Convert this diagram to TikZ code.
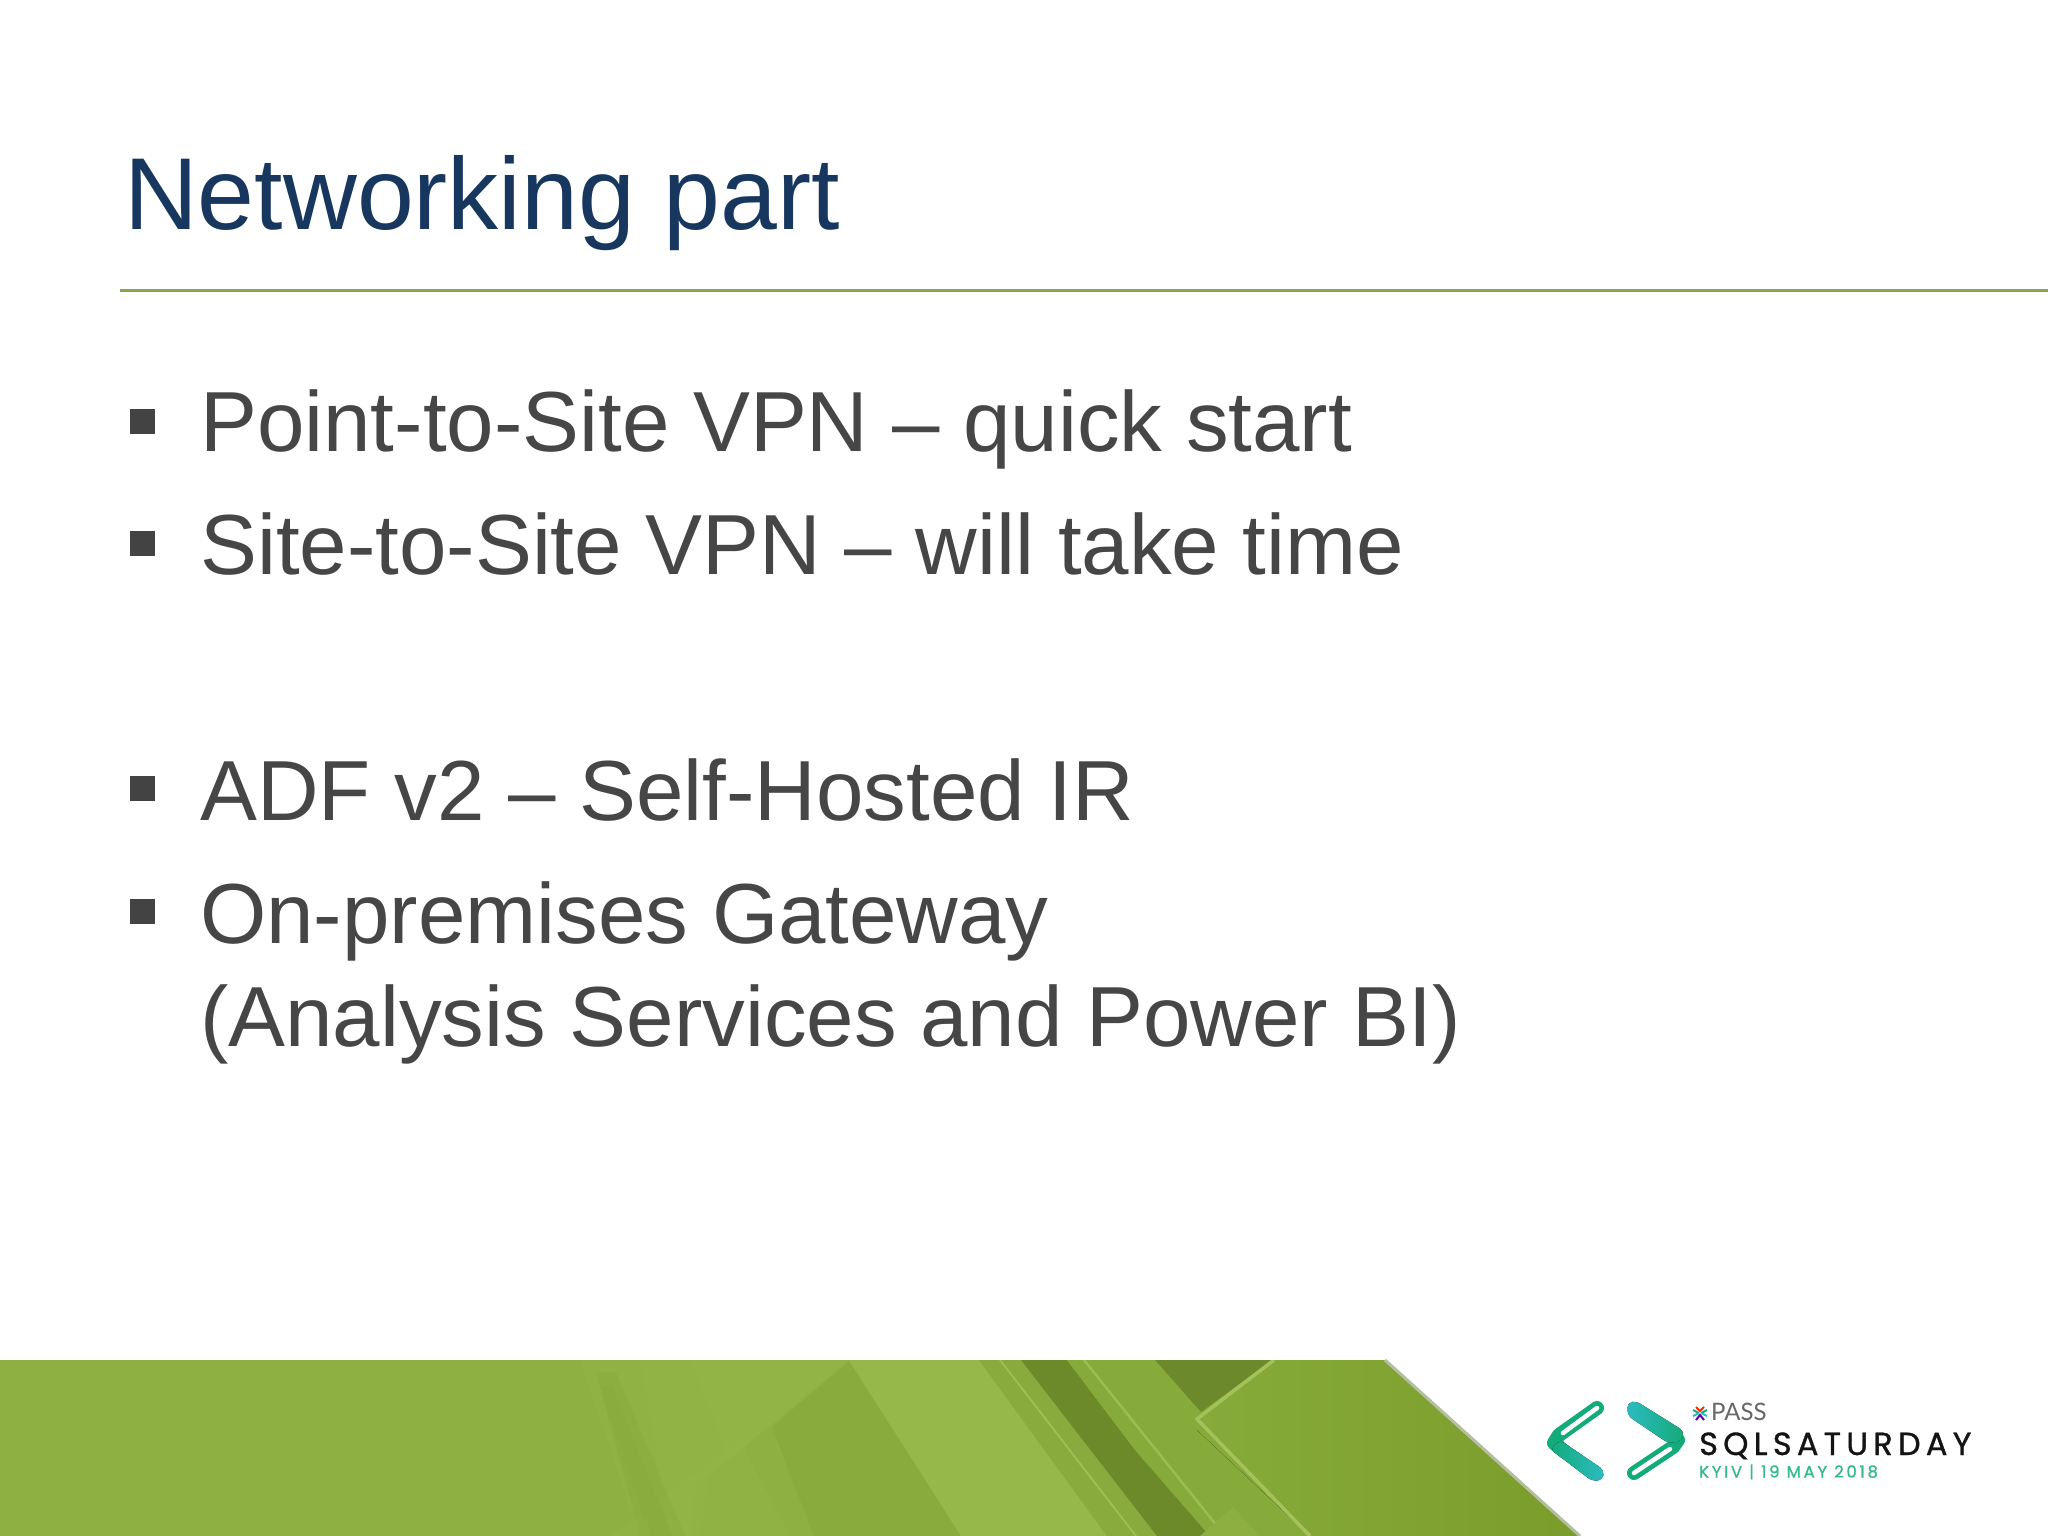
\documentclass[tikz,border=0pt]{standalone}
\usepackage{fontspec}
\setmainfont{Liberation Sans}
\newfontfamily\logospaced[LetterSpace=16.5,FakeBold=1]{Poppins}
\newfontfamily\kyivfont[LetterSpace=16.5,FakeBold=1]{Poppins}
\newfontfamily\passfont{Lato}
\definecolor{titleblue}{HTML}{17375E}
\definecolor{bodygray}{HTML}{464646}
\definecolor{rulegreen}{HTML}{8AA64A}
\definecolor{basegreen}{HTML}{8EAF42}
\definecolor{lightgreen}{HTML}{96B84B}
\definecolor{midgreen}{HTML}{89AB3E}
\definecolor{stripegreen}{HTML}{86A83A}
\definecolor{darkgreen}{HTML}{6C8A2C}
\definecolor{darkband}{HTML}{6D8A2B}
\definecolor{panelA}{HTML}{87AB3A}
\definecolor{panelB}{HTML}{7A9C2A}
\definecolor{edgegreen}{HTML}{A3C25A}
\definecolor{logoA}{HTML}{14AB7A}
\definecolor{logoB}{HTML}{2DBBC0}
\tikzset{
  titletext/.style={anchor=base west,inner sep=0pt,text=titleblue,font=\fontsize{102.2}{104}\selectfont},
  bodytext/.style={anchor=base west,inner sep=0pt,text=bodygray,font=\fontsize{85.3}{85}\selectfont},
  bulletbox/.style={fill=bodygray!95!black},
  logoarm/.style={draw=logoA,line width=14pt,line cap=round,line join=round},
  logoslit/.style={draw=white,line width=4.5pt,line cap=round},
  softstep/.style={fill=lightgreen,fill opacity=0.28},
  softdark/.style={fill=stripegreen,fill opacity=0.3},
}
\begin{document}
\begin{tikzpicture}[x=1pt,y=-1pt]
\useasboundingbox (0,0) rectangle (2048,1536);
\fill[white] (0,0) rectangle (2048,1536);
% title
\node[titletext] (title) at (124,229) {Networking part};
\draw[rulegreen,line width=2.5pt] (120,290.5) -- (2048,290.5);
% bullets and text
\fill[bulletbox] (130,409) rectangle (155,434);
\fill[bulletbox] (130,531) rectangle (155,556);
\fill[bulletbox] (130,776) rectangle (155,801);
\fill[bulletbox] (130,899) rectangle (155,924);
\node[bodytext] (b1) at (200,451.5) {Point-to-Site VPN – quick start};
\node[bodytext] (b2) at (200,574.5) {Site-to-Site VPN – will take time};
\node[bodytext] (b3) at (200,820.5) {ADF v2 – Self-Hosted IR};
\node[bodytext] (b4) at (200,943.5) {On-premises Gateway};
\node[bodytext] (b5) at (200,1046) {(Analysis Services and Power BI)};
% footer
\begin{scope}
\clip (0,1360) -- (1385,1360) -- (1580,1536) -- (0,1536) -- cycle;
\fill[basegreen] (0,1360) rectangle (1600,1536);
% faint panels, built of soft overlapping steps
\fill[softstep] (580,1360) -- (849,1360) -- (695,1487) -- (690,1536) -- (640,1536) -- cycle;
\fill[softstep] (640,1360) -- (849,1360) -- (710,1475) -- (700,1536) -- (670,1536) -- cycle;
\fill[softstep] (690,1360) -- (849,1360) -- (730,1460) -- cycle;
\fill[softstep] (610,1536) -- (740,1440) -- (790,1536) -- cycle;
\fill[softdark] (596,1372) -- (616,1372) -- (685,1536) -- (640,1536) -- cycle;
\fill[softdark] (600,1385) -- (612,1385) -- (672,1536) -- (650,1536) -- cycle;
\fill[midgreen] (849,1362) -- (772,1427) -- (814,1536) -- (961,1536) -- cycle;
\fill[lightgreen] (849,1360) -- (979,1360) -- (1107,1536) -- (961,1536) -- cycle;
% stripe left of the dark band
\fill[midgreen] (979,1360) -- (1021,1360) -- (1157,1536) -- (1107,1536) -- cycle;
\draw[edgegreen!80!midgreen,line width=2pt] (1000,1360) -- (1136,1536);
% dark band
\fill[darkband] (1021,1360) -- (1067,1360) -- (1135,1450) -- (1210,1536) -- (1157,1536) -- cycle;
% stripe right of the dark band
\fill[panelA] (1067,1360) -- (1274,1360) -- (1197,1418) -- (1310,1536) -- (1210,1536) -- (1135,1450) -- cycle;
\draw[edgegreen!80!panelA,line width=2.5pt] (1084,1360) -- (1225,1536);
% dark triangle
\fill[darkgreen] (1155,1360) -- (1272,1360) -- (1201,1412) -- cycle;
% small light patch
\fill[midgreen!70!lightgreen] (1200,1536) -- (1233,1507) -- (1260,1536) -- cycle;
% big panel
\fill[left color=panelA,right color=panelB] (1274,1360) -- (1385,1360) -- (1585,1536) -- (1310,1536) -- (1197,1430) -- (1197,1418) -- cycle;
\draw[edgegreen,line width=3.5pt,line join=round] (1274,1360) -- (1197,1419) -- (1310,1536);
\end{scope}
\draw[gray!50!rulegreen!60!white,line width=3pt] (1385,1360) -- (1580,1536);
% logo: left chevron
\draw[logoarm] (1597,1408) -- (1559,1435) -- (1554,1443) -- (1565,1452);
\fill[left color=logoA,right color=logoB,rounded corners=5pt] (1550,1449) -- (1560,1440) -- (1604,1470) -- (1603,1480) -- (1592,1481) -- cycle;
\draw[logoslit] (1597,1408) -- (1563,1433);
% logo: right chevron
\draw[logoarm] (1634,1473) -- (1673,1447) -- (1678,1440) -- (1668,1431);
\fill[left color=logoB,right color=logoA,rounded corners=5pt] (1627,1403) -- (1636,1401) -- (1684,1431) -- (1682,1441) -- (1668,1443) -- (1628,1416) -- cycle;
\draw[logoslit] (1634,1473) -- (1670,1449);
% logo: PASS mark
\draw[logoA,line width=2pt] (1693,1410) -- (1699,1413);
\draw[logoB,line width=2pt] (1693,1416) -- (1699,1413);
\draw[red!70!orange,line width=2pt] (1696,1407) -- (1700,1411) -- (1704,1407);
\draw[violet!70!blue,line width=2pt] (1696,1420) -- (1700,1415) -- (1704,1420);
\draw[logoA,line width=2pt] (1707,1410) -- (1701,1413);
\draw[logoB,line width=2pt] (1707,1416) -- (1701,1413);
\node[anchor=base west,inner sep=0pt,text=black!60,font=\passfont\fontsize{24}{24}\selectfont] (pass) at (1711,1420) {PASS};
\node[anchor=base west,inner sep=0pt,text=black!92,font=\logospaced\fontsize{32}{32}\selectfont] (sqls) at (1699,1455) {SQLSATURDAY};
\node[anchor=base west,inner sep=0pt,text=logoA!85!white,font=\kyivfont\fontsize{16.5}{17}\selectfont] (kyiv) at (1699,1477.5) {KYIV | 19 MAY 2018};
\end{tikzpicture}
\end{document}
